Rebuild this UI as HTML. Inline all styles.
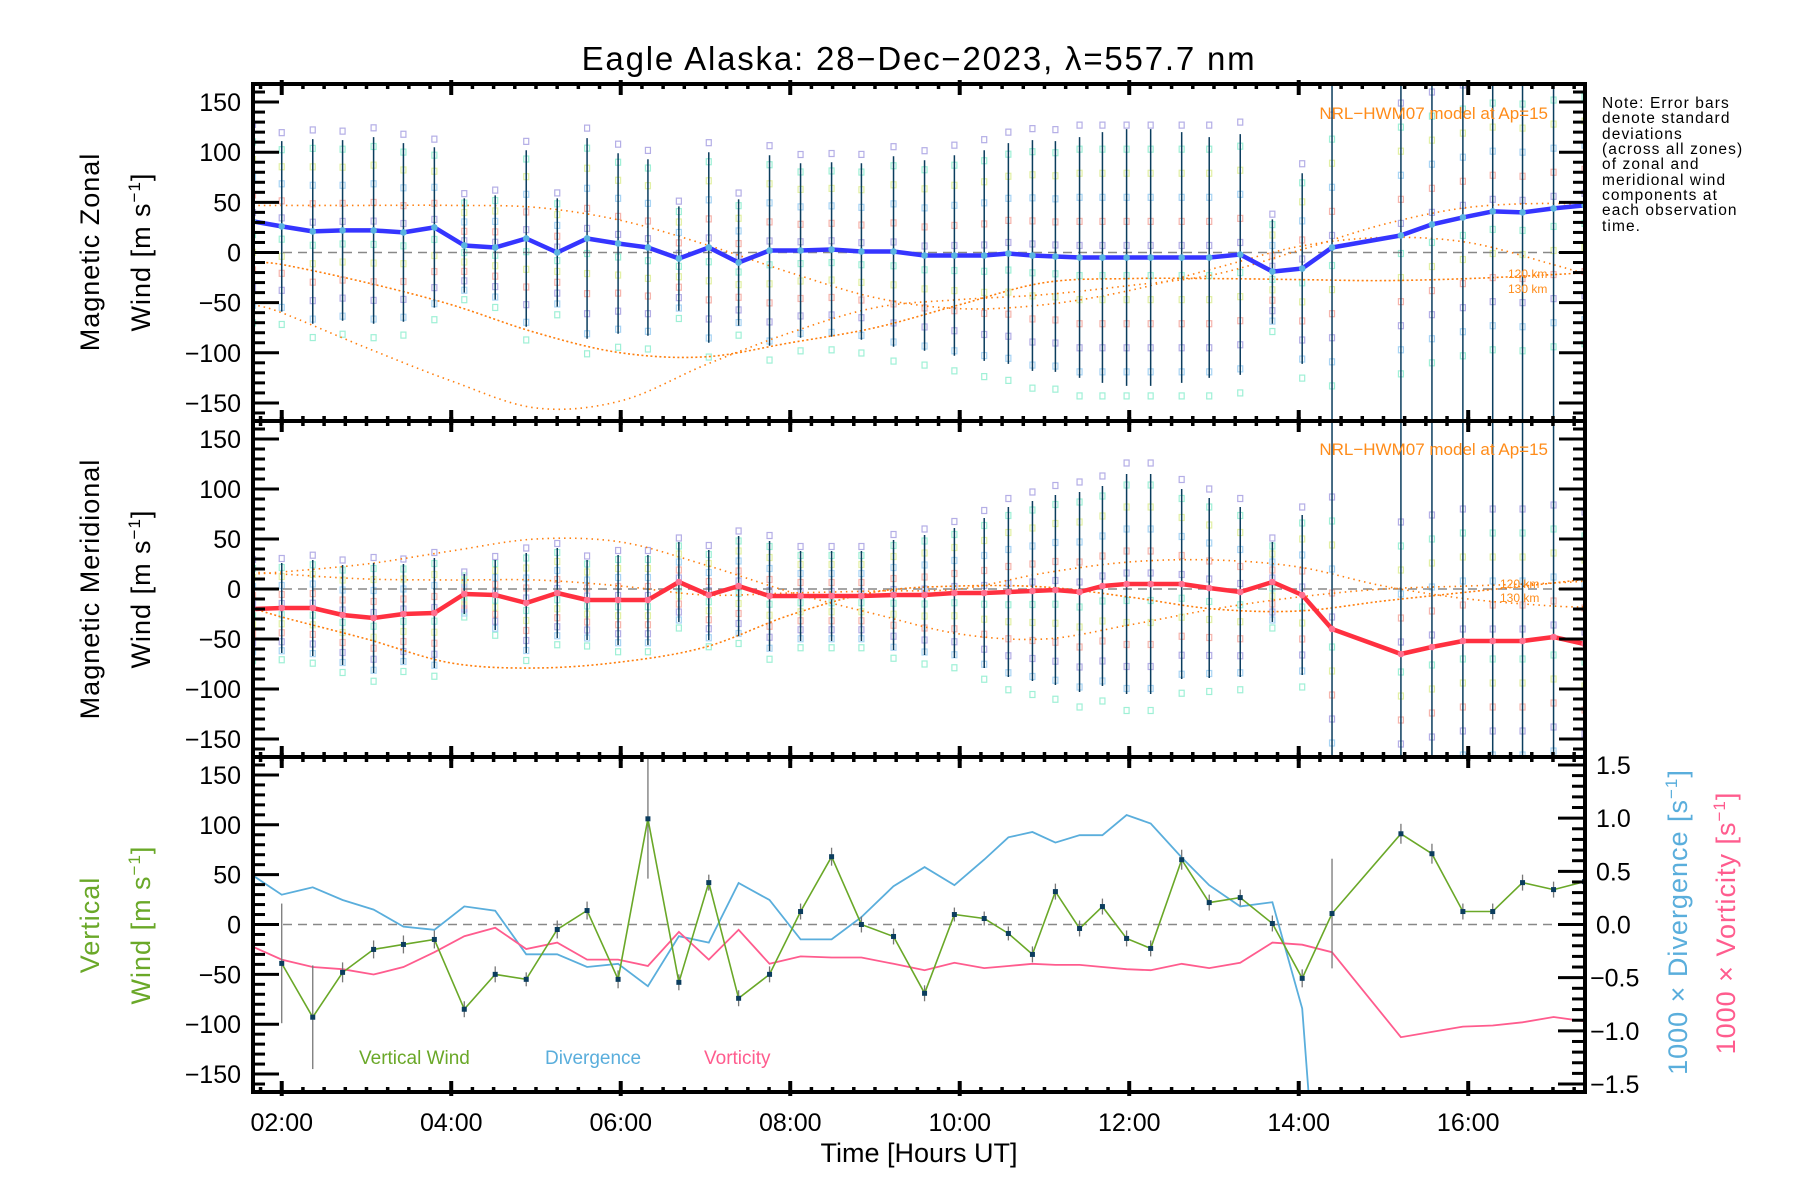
<!DOCTYPE html>
<html><head><meta charset="utf-8"><style>
html,body{margin:0;padding:0;background:#fff}
svg{display:block}
text{font-family:"Liberation Sans",sans-serif}
</style></head><body>
<svg id="chart" xmlns="http://www.w3.org/2000/svg" width="1800" height="1200" viewBox="0 0 1800 1200">
<rect width="1800" height="1200" fill="#fff"/>
<defs>
<clipPath id="c0"><rect x="253" y="84" width="1332" height="337"/></clipPath>
<clipPath id="c1"><rect x="253" y="421" width="1332" height="336"/></clipPath>
<clipPath id="c2"><rect x="253" y="757" width="1332" height="335"/></clipPath>
</defs>
<text x="919" y="70" font-size="33" letter-spacing="1.8" text-anchor="middle">Eagle Alaska: 28−Dec−2023, λ=557.7 nm</text>
<g font-size="15.5" letter-spacing="1.1">
<text x="1602" y="108">Note: Error bars</text>
<text x="1602" y="123">denote standard</text>
<text x="1602" y="139">deviations</text>
<text x="1602" y="154">(across all zones)</text>
<text x="1602" y="169">of zonal and</text>
<text x="1602" y="185">meridional wind</text>
<text x="1602" y="200">components at</text>
<text x="1602" y="215">each observation</text>
<text x="1602" y="231">time.</text>
</g>
<g id="layer"></g>
</svg>
<script>
// ---------- data ----------
const obsHours = [1.661,2.000,2.366,2.718,3.084,3.436,3.801,4.154,4.519,4.885,5.251,5.603,5.969,6.321,6.686,7.039,7.391,7.756,8.122,8.488,8.840,9.219,9.585,9.937,10.289,10.574,10.858,11.129,11.414,11.684,11.969,12.253,12.619,12.944,13.310,13.689,14.041,14.393,15.206,15.572,15.937,16.289,16.641,17.007,17.373];
const zonalWind = [31,26,21,22,22,20,25,7,5,14,0,14,9,5,-6,5,-10,2,2,3,1,1,-3,-3,-3,-1,-3,-4,-5,-5,-5,-5,-5,-5,-2,-19,-16,5,17,28,35,41,40,44,47];
const zonalSd = [88,85,92,90,93,89,80,47,52,88,54,100,90,88,52,95,63,95,87,87,88,95,95,100,105,110,115,115,120,125,128,128,125,120,120,52,95,300,300,300,300,300,300,300,300];
const meridWind = [-20,-19,-19,-26,-29,-25,-24,-5,-6,-14,-4,-11,-11,-11,7,-6,3,-7,-7,-7,-7,-6,-6,-4,-4,-3,-2,-1,-3,3,5,5,5,1,-3,7,-6,-40,-65,-58,-52,-52,-52,-48,-55];
const meridSd = [45,45,48,50,55,50,55,20,35,50,45,40,45,45,40,45,50,55,45,45,45,55,60,65,75,85,90,95,100,100,110,110,95,90,85,40,80,300,300,300,300,300,300,300,300];
const vertWind = [null,-39,-93,-48,-25,-20,-15,-85,-50,-55,-5,14,-55,106,-58,42,-74,-50,13,68,0,-12,-69,10,6,-9,-30,33,-4,18,-14,-24,65,22,27,1,-54,11,91,71,13,13,42,35,43];
const vertSd = [0,60,52,10,9,9,9,8,8,7,9,9,9,60,8,8,8,8,8,9,8,8,8,7,7,7,8,8,8,8,8,8,10,8,8,8,9,55,10,10,8,8,8,8,8];
const divHours = [1.661,2.000,2.366,2.718,3.084,3.436,3.801,4.154,4.519,4.885,5.251,5.603,5.969,6.321,6.686,7.039,7.391,7.756,8.122,8.488,8.840,9.219,9.585,9.937,10.289,10.574,10.858,11.129,11.414,11.684,11.969,12.253,12.619,12.944,13.310,13.689,14.041,14.25];
const divergence = [0.46,0.28,0.35,0.23,0.14,-0.02,-0.05,0.17,0.13,-0.28,-0.28,-0.40,-0.37,-0.58,-0.11,-0.17,0.39,0.23,-0.14,-0.14,0.07,0.36,0.54,0.37,0.61,0.82,0.87,0.77,0.84,0.84,1.03,0.95,0.63,0.37,0.17,0.21,-0.79,-3.0];
const vorticity = [-0.21,-0.33,-0.40,-0.42,-0.47,-0.40,-0.26,-0.11,-0.03,-0.23,-0.17,-0.33,-0.33,-0.39,-0.07,-0.33,-0.05,-0.37,-0.30,-0.31,-0.31,-0.37,-0.43,-0.36,-0.41,-0.39,-0.37,-0.38,-0.38,-0.40,-0.42,-0.43,-0.37,-0.41,-0.36,-0.17,-0.19,-0.26,-1.06,-1.01,-0.96,-0.95,-0.92,-0.87,-0.91];
const modelHours = [1.66,2,3,4,5,6,7,8,9,10,11,12,13,14,15,16,17,17.4];
const zonalModelA = [47,47,47,47,45,32,8,-20,-45,-56,-52,-38,-16,6,15,10,-12,-22];
const zonalModelB = [-10,-12,-30,-52,-80,-100,-104,-90,-75,-52,-30,-26,-26,-27,-28,-26,-22,-20];
const zonalModelC = [-52,-60,-95,-128,-155,-148,-112,-80,-55,-47,-42,-33,-22,2,28,45,49,46];
const meridModelA = [15,17,25,38,50,47,24,-3,-25,-45,-50,-36,-20,-8,0,3,6,8];
const meridModelB = [-19,-28,-50,-74,-79,-73,-58,-26,-3,3,2,-8,-20,-22,-12,-3,6,10];
const meridModelC = [17,15,10,9,9,3,-6,-4,-2,0,16,27,29,22,3,-10,-17,-18];
const zoneFrac = [-1.15,-0.95,-0.75,-0.55,-0.35,-0.15,0.1,0.3,0.5,0.7,0.9,1.1];
const zoneColors = ['#9ff0d6','#a8d4f4','#b4aee6','#f6b4ac','#e2f0a4','#9ff0d6','#b4aee6','#f6b4ac','#a8d4f4','#e2f0a4','#9ff0d6','#b4aee6'];
const yTicks = [-150,-100,-50,0,50,100,150];
const rTicks = [-1.5,-1.0,-0.5,0.0,0.5,1.0,1.5];
const xTickHours = [2,4,6,8,10,12,14,16];
const xTickLabels = ['02:00','04:00','06:00','08:00','10:00','12:00','14:00','16:00'];

// ---------- axes ----------
const X0=253, X1=1585, H0=1.661, H1=17.378;
const panels=[{t:84,b:421},{t:421,b:757},{t:757,b:1092}];
const YR=168, RR=1.575;
const xs = h => X0 + (h-H0)/(H1-H0)*(X1-X0);
const ys = (p,v) => { const P=panels[p]; const m=(P.t+P.b)/2; return m - v/YR*(P.b-P.t)/2; };
const yr = v => { const P=panels[2]; const m=(P.t+P.b)/2; return m - v/RR*(P.b-P.t)/2; };
const NS='http://www.w3.org/2000/svg';
const layer=document.getElementById('layer');
function mk(tag, attrs, parent){ const e=document.createElementNS(NS,tag); for(const k in attrs) e.setAttribute(k,attrs[k]); (parent||layer).appendChild(e); return e; }
function grp(clip){ const g=mk('g', clip?{'clip-path':'url(#'+clip+')'}:{}); return g; }
function smooth(pts){
  let d='M'+pts[0][0].toFixed(1)+','+pts[0][1].toFixed(1);
  for(let i=0;i<pts.length-1;i++){
    const p0=pts[Math.max(0,i-1)],p1=pts[i],p2=pts[i+1],p3=pts[Math.min(pts.length-1,i+2)];
    const c1=[p1[0]+(p2[0]-p0[0])/6,p1[1]+(p2[1]-p0[1])/6], c2=[p2[0]-(p3[0]-p1[0])/6,p2[1]-(p3[1]-p1[1])/6];
    d+=' C'+c1[0].toFixed(1)+','+c1[1].toFixed(1)+' '+c2[0].toFixed(1)+','+c2[1].toFixed(1)+' '+p2[0].toFixed(1)+','+p2[1].toFixed(1);
  }
  return d;
}

// ---------- wind panels ----------
function windPanel(p, vals, sds, models, lineColor, dotColor, name){
  const g=grp('c'+p);
  
  
  for(let i=0;i<obsHours.length;i++){
    const sd=Math.min(sds[i],120);
    for(let j=0;j<zoneFrac.length;j++){
      const r=mk('rect',{x:xs(obsHours[i])-2.5,y:ys(p,vals[i]+zoneFrac[j]*sd)-3,width:5,height:6,fill:'none',stroke:zoneColors[j],'stroke-width':1.2},g);
      
      
    }
  }
  const z=mk('line',{x1:X0,x2:X1,y1:ys(p,0),y2:ys(p,0),stroke:'#888','stroke-width':1.5,'stroke-dasharray':'9,6'},g);
  
  
  models.forEach((m,k)=>{
    const pts=modelHours.map((h,i)=>[xs(h),ys(p,m[i])]);
    const path=mk('path',{d:smooth(pts),fill:'none',stroke:'#ff7f0e','stroke-width':1.6,'stroke-dasharray':k===1?'2,2.5':'1.5,4'},g);
    
    
  });
  for(let i=0;i<obsHours.length;i++){
    const x=xs(obsHours[i]);
    const e=mk('line',{x1:x,x2:x,y1:ys(p,vals[i]+sds[i]),y2:ys(p,vals[i]-sds[i]),stroke:'#0b3d5e','stroke-width':1.5},g);
    
    
  }
  const pl=mk('polyline',{points:obsHours.map((h,i)=>xs(h).toFixed(1)+','+ys(p,vals[i]).toFixed(1)).join(' '),fill:'none',stroke:lineColor,'stroke-width':4.5,'stroke-linejoin':'round'},g);
  
  
  for(let i=0;i<obsHours.length;i++){
    const c=mk('circle',{cx:xs(obsHours[i]),cy:ys(p,vals[i]),r:3.3,fill:dotColor},g);
    
    
  }
}
windPanel(0, zonalWind, zonalSd, [zonalModelA,zonalModelB,zonalModelC], '#3535ff', '#5ab4e0', 'zonal-wind');
windPanel(1, meridWind, meridSd, [meridModelA,meridModelB,meridModelC], '#ff3040', '#ff7090', 'meridional-wind');

// ---------- vertical panel ----------
(function(){
  const g=grp('c2');
  
  
  const z=mk('line',{x1:X0,x2:X1,y1:ys(2,0),y2:ys(2,0),stroke:'#888','stroke-width':1.5,'stroke-dasharray':'9,6'},g);
  
  
  const dv=mk('polyline',{points:divHours.map((h,i)=>xs(h).toFixed(1)+','+yr(divergence[i]).toFixed(1)).join(' '),fill:'none',stroke:'#5aaedc','stroke-width':1.8},g);
  
  
  const vo=mk('polyline',{points:obsHours.map((h,i)=>xs(h).toFixed(1)+','+yr(vorticity[i]).toFixed(1)).join(' '),fill:'none',stroke:'#ff5c8e','stroke-width':1.8},g);
  
  
  const pts=[];
  for(let i=0;i<obsHours.length;i++){
    if(vertWind[i]===null) continue;
    const x=xs(obsHours[i]);
    const e=mk('line',{x1:x,x2:x,y1:ys(2,vertWind[i]+vertSd[i]),y2:ys(2,vertWind[i]-vertSd[i]),stroke:'#777','stroke-width':1.3},g);
    
    
    pts.push(x.toFixed(1)+','+ys(2,vertWind[i]).toFixed(1));
  }
  const vl=mk('polyline',{points:pts.join(' '),fill:'none',stroke:'#6aa828','stroke-width':1.6},g);
  
  
  for(let i=0;i<obsHours.length;i++){
    if(vertWind[i]===null) continue;
    const r=mk('rect',{x:xs(obsHours[i])-2.5,y:ys(2,vertWind[i])-2.5,width:5,height:5,fill:'#0b3d5e'},g);
    
    
  }
})();

// ---------- frames, ticks, labels ----------
const ax=grp(null);


panels.forEach((P,p)=>{
  const f=mk('rect',{x:X0,y:P.t,width:X1-X0,height:P.b-P.t,fill:'none',stroke:'#000','stroke-width':4},ax);
  
  
  for(let v=-160; v<=160; v+=10){
    const y=ys(p,v); const L=(v%50===0)?26:12;
    mk('line',{x1:X0,x2:X0+L,y1:y,y2:y,stroke:'#000','stroke-width':3},ax);
    if(p<2) mk('line',{x1:X1,x2:X1-L,y1:y,y2:y,stroke:'#000','stroke-width':3},ax);
  }
  yTicks.forEach(v=>{
    const t=mk('text',{x:241,y:ys(p,v)+9,'font-size':25,'text-anchor':'end'},ax);
    t.textContent=(v<0?'−':'')+Math.abs(v);
    
    
  });
  for(let h=1.75; h<=17.3; h+=0.25){
    const x=xs(h); const major=Math.abs(h-Math.round(h))<0.01 && Math.round(h)%2===0;
    const L=major?11:5;
    mk('line',{x1:x,x2:x,y1:P.t-(major?4:0),y2:P.t+L,stroke:'#000','stroke-width':major?4:3.5},ax);
    mk('line',{x1:x,x2:x,y1:P.b+(major?4:0),y2:P.b-L,stroke:'#000','stroke-width':major?4:3.5},ax);
  }
});
for(let v=-1.5; v<=1.55; v+=0.1){
  const y=yr(v); const L=(Math.abs(v*2-Math.round(v*2))<0.01)?27:13;
  mk('line',{x1:X1,x2:X1-L,y1:y,y2:y,stroke:'#000','stroke-width':3},ax);
}
rTicks.forEach(v=>{
  const t=mk('text',{x:v<0?1590:1596,y:yr(v)+9,'font-size':25},ax);
  t.textContent=(v<0?'−':'')+Math.abs(v).toFixed(1);
  
  
});
xTickHours.forEach((h,i)=>{
  const t=mk('text',{x:xs(h),y:1131,'font-size':25,'text-anchor':'middle'},ax);
  t.textContent=xTickLabels[i];
  
  
});
</script>
<svg style="position:absolute;left:0;top:0" width="1800" height="1200">
<g font-family="Liberation Sans, sans-serif">
<text x="919" y="1162" font-size="27" text-anchor="middle">Time [Hours UT]</text>
<g font-size="27" text-anchor="middle" letter-spacing="1">
<text transform="translate(99,252) rotate(-90)">Magnetic Zonal</text>
<text transform="translate(150,252) rotate(-90)">Wind [m s<tspan font-size="17" dy="-10">−1</tspan><tspan dy="10">]</tspan></text>
</g>
<g font-size="27" text-anchor="middle" letter-spacing="1">
<text transform="translate(99,589) rotate(-90)">Magnetic Meridional</text>
<text transform="translate(150,589) rotate(-90)">Wind [m s<tspan font-size="17" dy="-10">−1</tspan><tspan dy="10">]</tspan></text>
</g>
<g font-size="27" text-anchor="middle" fill="#6aa828" letter-spacing="1">
<text transform="translate(99,925) rotate(-90)">Vertical</text>
<text transform="translate(150,925) rotate(-90)">Wind [m s<tspan font-size="17" dy="-10">−1</tspan><tspan dy="10">]</tspan></text>
</g>
<text transform="translate(1687,922) rotate(-90)" font-size="27" letter-spacing="1" text-anchor="middle" fill="#5aaedc">1000 × Divergence [s<tspan font-size="17" dy="-10">−1</tspan><tspan dy="10">]</tspan></text>
<text transform="translate(1735,923) rotate(-90)" font-size="27" letter-spacing="1" text-anchor="middle" fill="#ff5c8e">1000 × Vorticity [s<tspan font-size="17" dy="-10">−1</tspan><tspan dy="10">]</tspan></text>
<text x="359" y="1064" font-size="19" fill="#6aa828">Vertical Wind</text>
<text x="545" y="1064" font-size="19" fill="#5aaedc">Divergence</text>
<text x="704" y="1064" font-size="19" fill="#ff5c8e">Vorticity</text>
<g fill="#ff8c1a">
<text x="1548" y="119" font-size="17" text-anchor="end">NRL−HWM07 model at Ap=15</text>
<text x="1508" y="278" font-size="12">120 km</text>
<text x="1508" y="293" font-size="12">130 km</text>
<text x="1548" y="455" font-size="17" text-anchor="end">NRL−HWM07 model at Ap=15</text>
<text x="1500" y="588" font-size="12">120 km</text>
<text x="1500" y="602" font-size="12">130 km</text>
</g>
</g>
</svg>
</body></html>
